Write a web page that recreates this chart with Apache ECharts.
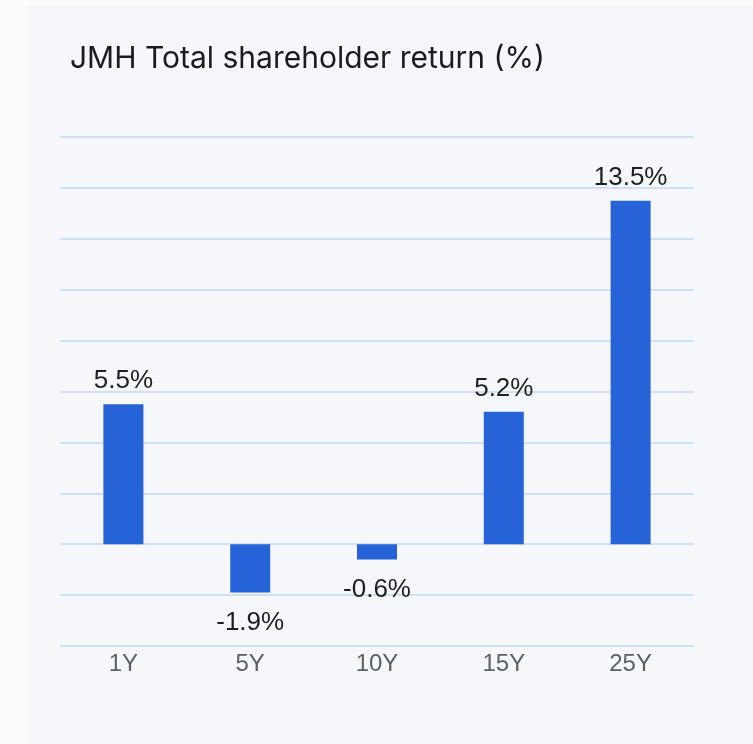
<!DOCTYPE html>
<html><head><meta charset="utf-8">
<script src="https://cdn.jsdelivr.net/npm/echarts@6/dist/echarts.min.js"></script>
<style>
html,body{margin:0;padding:0;background:#fcfcfe;width:753px;height:744px;overflow:hidden;}
#c{position:absolute;left:27px;top:5px;width:726px;height:739px;}
</style></head>
<body><div id="c"></div>
<script>
const categories = ['1Y','5Y','10Y','15Y','25Y'];
const returns = [5.5, -1.9, -0.6, 5.2, 13.5];
const titleText = 'JMH Total shareholder return (%)';

const chart = echarts.init(document.getElementById('c'));
chart.setOption({
  backgroundColor: '#f5f7fb',
  animation: false,
  title: {
    text: titleText, left: 38, top: 34,
    textStyle: {fontFamily: 'Inter', fontWeight: 'normal', fontSize: 30, color: '#1b1b1f'}
  },
  grid: {left: 33, right: 59, top: 132, bottom: 98, containLabel: false},
  xAxis: {
    type: 'category', data: categories,
    axisLine: {show: false}, axisTick: {show: false},
    axisLabel: {fontFamily: 'Liberation Sans', fontSize: 24, color: '#5b6168', margin: 6}
  },
  yAxis: {
    type: 'value', min: -4, max: 16, interval: 2,
    axisLabel: {show: false}, axisLine: {show: false}, axisTick: {show: false},
    splitLine: {lineStyle: {color: '#d2def4', width: 2}}
  },
  series: [{
    type: 'bar', barWidth: 40,
    itemStyle: {color: '#2563d6'},
    data: returns.map(v => ({
      value: v,
      label: {position: v < 0 ? 'bottom' : 'top', distance: v < 0 ? 17 : 10}
    })),
    label: {
      show: true,
      fontFamily: 'Liberation Sans', fontSize: 26, color: '#1f1f1f',
      formatter: p => p.value.toFixed(1) + '%'
    }
  }]
});
</script></body></html>
